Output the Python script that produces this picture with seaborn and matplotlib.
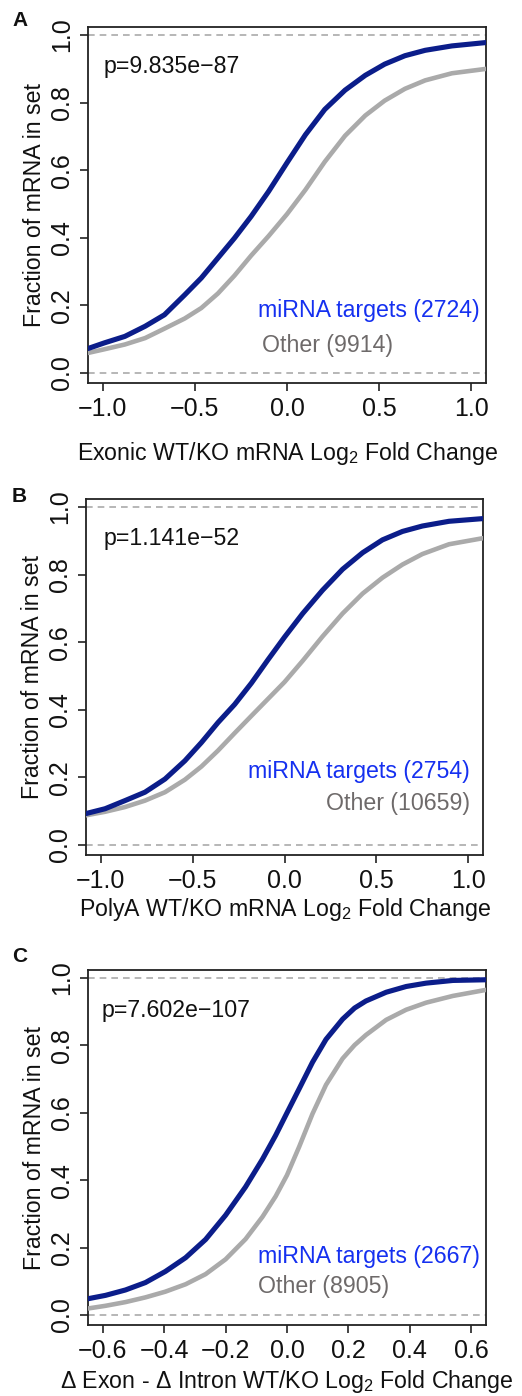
import numpy as np
import pandas as pd
import matplotlib
matplotlib.use("Agg")
import matplotlib.pyplot as plt
import seaborn as sns

sns.set_theme(style="white")
plt.rcParams['font.family'] = ['Liberation Sans', 'DejaVu Sans']
plt.rcParams['mathtext.default'] = 'regular'

# ---------------- data ----------------
a_x = [-1.08, -0.99, -0.88, -0.77, -0.665, -0.555, -0.465, -0.375, -0.285, -0.195, -0.1, 0.0,
       0.1, 0.205, 0.315, 0.425, 0.53, 0.64, 0.75, 0.895, 1.08]
a_targets = [0.072, 0.089, 0.108, 0.138, 0.172, 0.231, 0.281, 0.34, 0.399, 0.463, 0.537, 0.622,
             0.705, 0.780, 0.837, 0.881, 0.914, 0.939, 0.955, 0.968, 0.978]
a_other = [0.059, 0.07, 0.084, 0.103, 0.131, 0.161, 0.192, 0.235, 0.288, 0.347, 0.405, 0.47,
           0.542, 0.625, 0.702, 0.762, 0.806, 0.841, 0.866, 0.887, 0.90]

b_x = [-1.085, -0.976, -0.868, -0.759, -0.65, -0.542, -0.452, -0.362, -0.271, -0.18, -0.09, 0.0,
       0.099, 0.207, 0.316, 0.425, 0.533, 0.642, 0.75, 0.895, 1.08]
b_targets = [0.092, 0.107, 0.131, 0.156, 0.195, 0.249, 0.303, 0.362, 0.416, 0.479, 0.548, 0.615,
             0.685, 0.754, 0.816, 0.865, 0.903, 0.928, 0.944, 0.958, 0.966]
b_other = [0.087, 0.098, 0.112, 0.131, 0.156, 0.193, 0.232, 0.279, 0.331, 0.382, 0.432, 0.482,
           0.545, 0.617, 0.685, 0.744, 0.791, 0.830, 0.861, 0.890, 0.908]

c_x = [-0.648, -0.591, -0.526, -0.461, -0.396, -0.33, -0.265, -0.2, -0.135, -0.08, -0.037, 0.0,
       0.04, 0.083, 0.127, 0.181, 0.22, 0.257, 0.323, 0.388, 0.453, 0.54, 0.648]
c_targets = [0.048, 0.058, 0.074, 0.096, 0.129, 0.17, 0.224, 0.296, 0.38, 0.462, 0.533, 0.600,
             0.672, 0.75, 0.818, 0.878, 0.911, 0.932, 0.958, 0.975, 0.985, 0.993, 0.995]
c_other = [0.019, 0.027, 0.038, 0.052, 0.069, 0.091, 0.121, 0.165, 0.225, 0.291, 0.352, 0.415,
           0.500, 0.597, 0.683, 0.761, 0.801, 0.831, 0.876, 0.906, 0.927, 0.947, 0.965]

panel_letters = ["A", "B", "C"]
p_values = ["p=9.835e\u221287", "p=1.141e\u221252", "p=7.602e\u2212107"]
target_labels = ["miRNA targets (2724)", "miRNA targets (2754)", "miRNA targets (2667)"]
other_labels = ["Other (9914)", "Other (10659)", "Other (8905)"]
x_labels = ["Exonic WT/KO mRNA Log$_2$ Fold Change",
            "PolyA WT/KO mRNA Log$_2$ Fold Change",
            "\u0394 Exon - \u0394 Intron WT/KO Log$_2$ Fold Change"]
y_label = "Fraction of mRNA in set"
x_ticks = [[-1.0, -0.5, 0.0, 0.5, 1.0], [-1.0, -0.5, 0.0, 0.5, 1.0],
           [-0.6, -0.4, -0.2, 0.0, 0.2, 0.4, 0.6]]
y_ticks = [0.0, 0.2, 0.4, 0.6, 0.8, 1.0]

# ---------------- figure ----------------
W, H = 522, 1396
fig = plt.figure(figsize=(W / 100, H / 100), dpi=100)

boxes = [(88, 27, 486, 383), (86, 499, 483, 855), (88, 970, 486, 1325)]
xlims = [(-1.08, 1.08), (-1.08, 1.08), (-0.648, 0.648)]
ylim = (-0.03, 1.024)
series = [(a_x, a_targets, a_other), (b_x, b_targets, b_other), (c_x, c_targets, c_other)]

# text placement (axes fractions): p-value, targets, other
p_pos = [(0.040, 0.871), (0.043, 0.871), (0.034, 0.868)]
t_pos = [(0.427, 0.185, "left"), (0.967, 0.215, "right"), (0.428, 0.174, "left")]
o_pos = [(0.437, 0.087, "left"), (0.967, 0.126, "right"), (0.428, 0.089, "left")]
xlab_pad = [14, 2, 4]
letter_y = [21, 497, 957]

DARK_BLUE = "#0b1d8a"
LIGHT_GREY = "#aaaaaa"
TEXT_BLUE = "#1530f0"
TEXT_GREY = "#6e6a6a"
FS = 16.7

for i, (l, t, r, b) in enumerate(boxes):
    ax = fig.add_axes([l / W, (H - b) / H, (r - l) / W, (b - t) / H])
    xs, tg, ot = series[i]
    df = pd.DataFrame({"x": list(xs) * 2,
                       "frac": list(ot) + list(tg),
                       "set": ["Other"] * len(xs) + ["miRNA targets"] * len(xs)})
    for yv in (0.0, 1.0):
        ax.axhline(yv, color="#aaaaaa", lw=1.2, ls=(0, (4, 3)), zorder=1)
    sns.lineplot(data=df, x="x", y="frac", hue="set", size="set",
                 sizes={"Other": 3.3, "miRNA targets": 3.7},
                 palette={"Other": LIGHT_GREY, "miRNA targets": DARK_BLUE},
                 legend=False, ax=ax, zorder=3)
    for ln in ax.lines:
        ln.set_solid_joinstyle("round")
    ax.set_xlim(*xlims[i])
    ax.set_ylim(*ylim)
    ax.set_xticks(x_ticks[i])
    ax.set_xticklabels([f"{v:.1f}".replace("-", "\u2212") for v in x_ticks[i]])
    ax.set_yticks(y_ticks)
    ax.set_yticklabels([f"{v:.1f}" for v in y_ticks], rotation=90, va="center")
    ax.tick_params(axis="both", direction="out", length=6, width=1.2,
                   labelsize=18, colors="#222222", labelcolor="#111111",
                   bottom=True, left=True, pad=4)
    for s in ax.spines.values():
        s.set_color("#222222")
        s.set_linewidth(1.3)
    ax.set_xlabel(x_labels[i], fontsize=FS, color="#111111", labelpad=xlab_pad[i])
    ax.set_ylabel(y_label, fontsize=FS, color="#111111", labelpad=3)
    ax.text(p_pos[i][0], p_pos[i][1], p_values[i], transform=ax.transAxes, fontsize=FS,
            color="#111111", ha="left", va="baseline")
    ax.text(t_pos[i][0], t_pos[i][1], target_labels[i], transform=ax.transAxes, fontsize=FS,
            color=TEXT_BLUE, ha=t_pos[i][2], va="baseline")
    ax.text(o_pos[i][0], o_pos[i][1], other_labels[i], transform=ax.transAxes, fontsize=FS,
            color=TEXT_GREY, ha=o_pos[i][2], va="baseline")
    fig.text(12 / W, 1 - letter_y[i] / H, panel_letters[i], fontsize=15, fontweight="bold",
             ha="left", va="center", color="#111111")

fig.savefig("out.png", dpi=100)
